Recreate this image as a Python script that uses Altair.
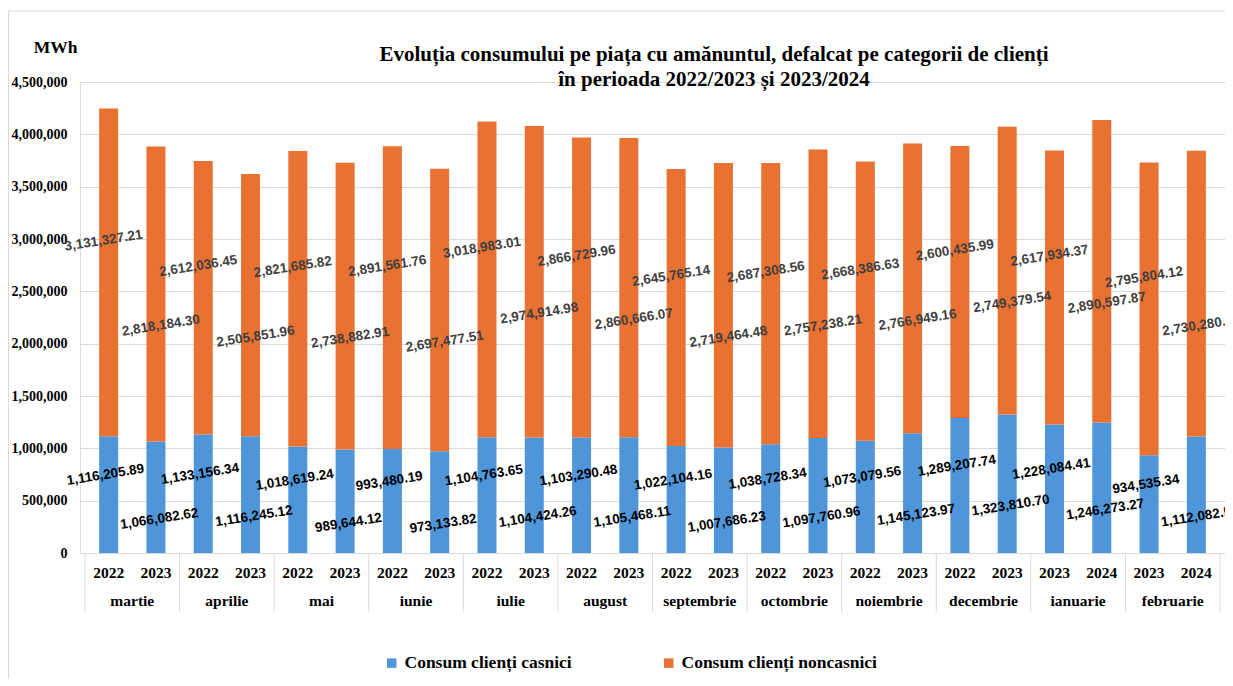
import altair as alt
import pandas as pd

# ---------------- data ----------------
months = ["martie", "aprilie", "mai", "iunie", "iulie", "august", "septembrie",
          "octombrie", "noiembrie", "decembrie", "ianuarie", "februarie"]
years = ["2022", "2023"] * 10 + ["2023", "2024"] * 2
casnici = [1116205.89, 1066082.62, 1133156.34, 1116245.12, 1018619.24, 989644.12,
           993480.19, 973133.82, 1104763.65, 1104424.26, 1103290.48, 1105468.11,
           1022104.16, 1007686.23, 1038728.34, 1097760.96, 1073079.56, 1145123.97,
           1289207.74, 1323810.70, 1228084.41, 1246273.27, 934535.34, 1112082.53]
noncasnici = [3131327.21, 2818184.30, 2612036.45, 2505851.96, 2821685.82, 2738882.91,
              2891561.76, 2697477.51, 3018983.01, 2974914.98, 2866729.96, 2860666.07,
              2645765.14, 2719464.48, 2687308.56, 2757238.21, 2668386.63, 2766949.16,
              2600435.99, 2749379.54, 2617934.37, 2890597.87, 2795804.12, 2730280.36]
series_names = ["Consum clienți casnici", "Consum clienți noncasnici"]
colors = ["#4E95D9", "#E97132"]
y_ticks = [0, 500000, 1000000, 1500000, 2000000, 2500000, 3000000, 3500000, 4000000, 4500000]
title_text = ("Evoluția consumului pe piața cu amănuntul, defalcat pe categorii de clienți\n"
              "în perioada 2022/2023 și 2023/2024")

rows = []
for i in range(len(casnici)):
    base = 0.0
    for s, vals in enumerate([casnici, noncasnici]):
        v = vals[i]
        rows.append(dict(pos=i + 0.5, year=years[i], month=months[i // 2],
                         series=series_names[s], order=s, value=v,
                         mid=base + v / 2, parity=i % 2))
        base += v
df = pd.DataFrame(rows)
months_df = pd.DataFrame({"month": months, "center": [2 * m + 1 for m in range(len(months))]})
bounds_df = pd.DataFrame({"b": list(range(0, 2 * len(months) + 1, 2))})
years_df = pd.DataFrame({"year": years, "pos": [i + 0.5 for i in range(len(years))]})

W, H = 1145, 471
SERIF = "Liberation Serif"
SANS = "Liberation Sans"

x_scale = alt.Scale(domain=[0, 24], nice=False, zero=False)
y_scale = alt.Scale(domain=[0, 4500000], nice=False)
y_axis = alt.Axis(values=y_ticks, format=",d", title="MWh",
                  titleAngle=0, titleX=-25, titleY=-35, titleAlign="center",
                  titleBaseline="middle", titleFont=SERIF, titleFontSize=17.5,
                  titleFontWeight="bold", titleColor="black",
                  labelFont=SERIF, labelFontSize=14, labelFontWeight="bold",
                  labelColor="black", labelPadding=13, ticks=False,
                  domain=False, grid=True, gridColor="#d9d9d9", gridWidth=1)

base = alt.Chart(df)

bars = base.mark_bar(size=19).encode(
    x=alt.X("pos:Q", scale=x_scale, axis=None),
    y=alt.Y("value:Q", stack="zero", scale=y_scale, axis=y_axis, title="MWh"),
    color=alt.Color("series:N", scale=alt.Scale(domain=series_names, range=colors),
                    legend=alt.Legend(title=None, orient="none", direction="horizontal",
                                      columns=2, legendX=303, legendY=572,
                                      symbolType="square", symbolSize=90,
                                      symbolStrokeWidth=0, labelFont=SERIF,
                                      labelFontSize=17.5, labelFontWeight="bold",
                                      labelColor="black", labelOffset=4,
                                      columnPadding=88, labelLimit=400)),
    order=alt.Order("order:Q"),
)


def value_labels(series_idx, parity, dy, color):
    return base.transform_filter(
        (alt.datum.order == series_idx) & (alt.datum.parity == parity)
    ).mark_text(angle=351, font=SANS, fontSize=13.5, fontWeight="bold",
                color=color, dy=dy).encode(
        x=alt.X("pos:Q", scale=x_scale, axis=None),
        y=alt.Y("mid:Q", scale=y_scale, axis=y_axis, title="MWh"),
        text=alt.Text("value:Q", format=",.2f"),
    )


label_layers = [
    value_labels(0, 0, -20, "black"),
    value_labels(0, 1, 22, "black"),
    value_labels(1, 0, -32, "#404040"),
    value_labels(1, 1, 32, "#404040"),
]

separators = alt.Chart(bounds_df).mark_rule(color="#d9d9d9", strokeWidth=1).encode(
    x=alt.X("b:Q", scale=x_scale, axis=None),
    y=alt.value(H),
    y2=alt.value(H + 59),
)

year_text = alt.Chart(years_df).mark_text(font=SERIF, fontSize=15.5, fontWeight="bold",
                                          color="black", baseline="middle").encode(
    x=alt.X("pos:Q", scale=x_scale, axis=None),
    y=alt.value(H + 20),
    text="year:N",
)

month_text = alt.Chart(months_df).mark_text(font=SERIF, fontSize=15.5, fontWeight="bold",
                                            color="black", baseline="middle").encode(
    x=alt.X("center:Q", scale=x_scale, axis=None),
    y=alt.value(H + 48),
    text="month:N",
)

title_mark = alt.Chart(pd.DataFrame({"k": [0]})).mark_text(
    font=SERIF, fontSize=21, fontWeight="bold", color="black", align="center",
    baseline="middle", lineBreak="\n", lineHeight=25).encode(
    x=alt.value(634), y=alt.value(-27.5), text=alt.value(title_text),
)

frame = alt.Chart(pd.DataFrame({"k": [0]})).mark_rect(
    fill="transparent", stroke="#d9d9d9", strokeWidth=1, clip=False).encode(
    x=alt.value(-71.5), x2=alt.value(W + 60),
    y=alt.value(-71), y2=alt.value(H + 140),
)

chart = alt.layer(frame, bars, *label_layers, separators, year_text, month_text,
                  title_mark).properties(
    width=W, height=H,
    autosize=alt.AutoSizeParams(type="none"),
    padding={"left": 72, "top": 74, "right": 0, "bottom": 125},
).configure_view(stroke=None).configure(background="white")

chart.save("out.html", embed_options={"renderer": "svg", "actions": False})
